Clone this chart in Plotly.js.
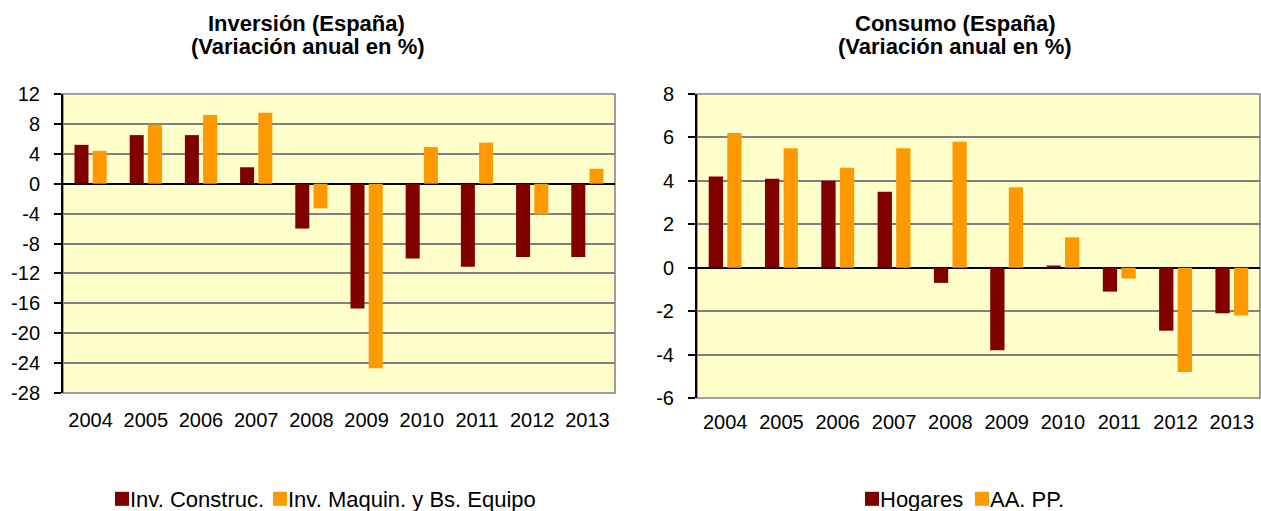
<!DOCTYPE html>
<html>
<head>
<meta charset="utf-8">
<script src="https://cdn.plot.ly/plotly-3.0.1.min.js"></script>
<style>
  html, body { margin: 0; padding: 0; background: #ffffff; }
  #chart { width: 1261px; height: 511px; }
</style>
</head>
<body>
<div id="chart"></div>
<script>
// ---- Data ----
const years = ["2004","2005","2006","2007","2008","2009","2010","2011","2012","2013"];

const invConstruc = [5.2, 6.5, 6.5, 2.2, -6.0, -16.7, -10.0, -11.1, -9.8, -9.8];
const invMaquin   = [4.4, 7.9, 9.2, 9.5, -3.3, -24.7, 4.9, 5.5, -4.1, 2.0];

const hogares = [4.2, 4.1, 4.0, 3.5, -0.7, -3.8, 0.1, -1.1, -2.9, -2.1];
const aapp    = [6.2, 5.5, 4.6, 5.5, 5.8, 3.7, 1.4, -0.5, -4.8, -2.2];

const leftTicks  = [12, 8, 4, 0, -4, -8, -12, -16, -20, -24, -28];
const rightTicks = [8, 6, 4, 2, 0, -2, -4, -6];

const leftTitle1  = "Inversión (España)";
const rightTitle1 = "Consumo (España)";
const subTitle    = "(Variación anual en %)";

// ---- Styling ----
const W = 1261, H = 511;
const px = v => v / W;
const py = v => 1 - v / H;
const FONT = "Liberation Sans, Arial, sans-serif";
const DARK = "#800000";
const ORANGE = "#FF9900";
const GRID = "#808080";

const traces = [
  { type: "bar", x: years, y: invConstruc, name: "Inv. Construc.", marker: { color: DARK },
    xaxis: "x", yaxis: "y", legend: "legend", showlegend: true },
  { type: "bar", x: years, y: invMaquin, name: "Inv. Maquin. y Bs. Equipo", marker: { color: ORANGE },
    xaxis: "x", yaxis: "y", legend: "legend2", showlegend: true },
  { type: "bar", x: years, y: hogares, name: "Hogares", marker: { color: DARK },
    xaxis: "x2", yaxis: "y2", legend: "legend3", showlegend: true },
  { type: "bar", x: years, y: aapp, name: "AA. PP.", marker: { color: ORANGE },
    xaxis: "x2", yaxis: "y2", legend: "legend4", showlegend: true }
];

const xCommon = {
  type: "category",
  showgrid: false, zeroline: false, showline: false,
  ticks: "outside", tickcolor: "rgba(0,0,0,0)",
  tickfont: { family: FONT, size: 20, color: "#000" },
  automargin: false, fixedrange: true
};
const yCommon = {
  showgrid: true, gridcolor: GRID, gridwidth: 1.5,
  zeroline: true, zerolinecolor: "#000", zerolinewidth: 2,
  showline: true, linecolor: "#000", linewidth: 2,
  ticks: "outside", ticklen: 7, tickcolor: "#000", tickwidth: 2,
  ticklabelstandoff: 10,
  tickmode: "array",
  tickfont: { family: FONT, size: 20, color: "#000" },
  automargin: false, fixedrange: true
};

function legendAt(xPx) {
  return {
    orientation: "h", x: px(xPx), y: py(478), xanchor: "left", yanchor: "top",
    bgcolor: "rgba(0,0,0,0)", font: { family: FONT, size: 22, color: "#000" },
    itemwidth: 30, maxheight: 80
  };
}

function titleLine(text, xPx, yPx) {
  return { text: "<b>" + text + "</b>", xref: "paper", yref: "paper",
    x: px(xPx), y: py(yPx), xanchor: "center", yanchor: "middle", showarrow: false,
    font: { family: FONT, size: 22, color: "#000" } };
}

const layout = {
  width: W, height: H,
  showlegend: true,
  margin: { l: 0, r: 0, t: 0, b: 0, autoexpand: false },
  paper_bgcolor: "#ffffff",
  plot_bgcolor: "#FFFFCC",
  barmode: "group",
  bargap: 0.34,
  bargroupgap: 0.23,
  font: { family: FONT, size: 20, color: "#000" },
  xaxis: Object.assign({}, xCommon, { domain: [px(63), px(615)], anchor: "y", ticklen: 9 }),
  yaxis: Object.assign({}, yCommon, { domain: [py(393), py(94)], anchor: "x",
    range: [-28, 12], tickvals: leftTicks, ticktext: leftTicks.map(String) }),
  xaxis2: Object.assign({}, xCommon, { domain: [px(697), px(1260)], anchor: "y2", ticklen: 6 }),
  yaxis2: Object.assign({}, yCommon, { domain: [py(398), py(94)], anchor: "x2",
    range: [-6, 8], tickvals: rightTicks, ticktext: rightTicks.map(String) }),
  shapes: [
    { type: "rect", xref: "x domain", yref: "y domain", x0: 0, x1: 1, y0: 0, y1: 1,
      line: { color: GRID, width: 1.5 }, layer: "below" },
    { type: "rect", xref: "x2 domain", yref: "y2 domain", x0: 0, x1: 1, y0: 0, y1: 1,
      line: { color: GRID, width: 1.5 }, layer: "below" }
  ],
  annotations: [
    titleLine(leftTitle1, 306, 23),
    titleLine(subTitle, 308, 46),
    titleLine(rightTitle1, 955, 23),
    titleLine(subTitle, 955, 46)
  ],
  legend: legendAt(90),
  legend2: legendAt(248),
  legend3: legendAt(840),
  legend4: legendAt(950),
  hovermode: "closest"
};

Plotly.newPlot("chart", traces, layout, { displayModeBar: false }).then(function (gd) {
  // pull legend squares next to their labels and size them like the original
  gd.querySelectorAll(".legendpoints path").forEach(function (p) {
    p.setAttribute("transform", "translate(32,0) scale(1.17)");
  });
});
</script>
</body>
</html>
